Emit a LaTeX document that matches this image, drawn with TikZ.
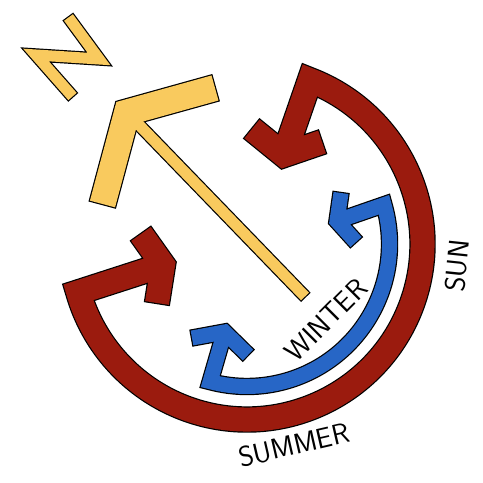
\documentclass[tikz,border=0pt]{standalone}
\usepackage{xcolor}
\usepackage{tikz}
\usetikzlibrary{calc}
\definecolor{sunred}{HTML}{9B1B0E}
\definecolor{winterblue}{HTML}{2766C6}
\definecolor{northyellow}{HTML}{F9CA5E}

\begin{document}
\begin{tikzpicture}[
    x=1pt,y=1pt,
    font=\sffamily\fontsize{28.5}{28.5}\selectfont,
    band/.style={draw=black,line width=1.2pt,double=#1,line cap=rect,
      line join=miter},
    sunband/.style={band=sunred,double distance=24pt},
    winterband/.style={band=winterblue,double distance=15pt},
    letterband/.style={band=northyellow,double distance=11pt},
    rim/.style={draw=black,line cap=rect,line join=miter},
    core/.style={draw=northyellow,line cap=rect,line join=miter},
    season/.style={inner sep=0pt}
  ]
    \useasboundingbox (0,0) rectangle (483,483);
    \coordinate (centre) at (247,239);

    % north arrow
    \coordinate (shaftfoot) at (305,186.5);
    \coordinate (northtip) at (127,370.5);
    \coordinate (northwing1) at (215,395);
    \coordinate (northwing2) at (102.5,279);
    \draw[rim,line width=13.4pt] ($(shaftfoot)!5.5pt!(northtip)$) -- (northtip);
    \draw[rim,line width=28.4pt] ($(northwing1)!13pt!(northtip)$) -- (northtip)
      -- ($(northwing2)!13pt!(northtip)$);
    \draw[core,line width=11pt] ($(shaftfoot)!5.5pt!(northtip)$) -- (northtip);
    \draw[core,line width=26pt] ($(northwing1)!13pt!(northtip)$) -- (northtip)
      -- ($(northwing2)!13pt!(northtip)$);

    \coordinate (n1) at (68.5,465.5);
    \coordinate (n2) at (99,424);
    \coordinate (n3) at (36,428);
    \coordinate (n4) at (72.5,386.5);
    \draw[letterband] ($(n1)!5.5pt!(n2)$) -- (n2) -- (n3) -- ($(n4)!5.5pt!(n3)$);

    % sun path
    \coordinate (redtop) at ($(centre)+(69:175.5)$);
    \coordinate (redleft) at ($(centre)+(-164:175.5)$);
    \coordinate (redtoptip) at (284,328);
    \coordinate (redtopwing1) at (252,354);
    \coordinate (redtopwing2) at (322,341);
    \coordinate (redlefttip) at (163,218);
    \coordinate (redleftwing1) at (141,249);
    \coordinate (redleftwing2) at (157,180);
    \draw[sunband]
      ($(redtoptip)!12pt!(redtop)$) -- (redtop)
        arc[start angle=69,end angle=-164,radius=175.5]
        -- ($(redlefttip)!12pt!(redleft)$)
      ($(redtopwing1)!12pt!(redtoptip)$) -- (redtoptip)
        -- ($(redtopwing2)!12pt!(redtoptip)$)
      ($(redleftwing1)!12pt!(redlefttip)$) -- (redlefttip)
        -- ($(redleftwing2)!12pt!(redlefttip)$);

    \coordinate (bluetop) at ($(centre)+(16:142.5)$);
    \coordinate (bluelow) at ($(centre)+(-105:142.5)$);
    \coordinate (bluetoptip) at (337,262);
    \coordinate (bluetopwing1) at (341,290);
    \coordinate (bluetopwing2) at (356,241);
    \coordinate (bluelowtip) at (224.5,151);
    \coordinate (bluelowwing1) at (192,145);
    \coordinate (bluelowwing2) at (248,128);
    \draw[winterband]
      ($(bluetoptip)!7.5pt!(bluetop)$) -- (bluetop)
        arc[start angle=16,end angle=-105,radius=142.5]
        -- ($(bluelowtip)!7.5pt!(bluelow)$)
      ($(bluetopwing1)!7.5pt!(bluetoptip)$) -- (bluetoptip)
        -- ($(bluetopwing2)!7.5pt!(bluetoptip)$)
      ($(bluelowwing1)!7.5pt!(bluelowtip)$) -- (bluelowtip)
        -- ($(bluelowwing2)!7.5pt!(bluelowtip)$);

    \node[season,rotate=13] (summer) at (294,38) {SUMMER};
    \node[season,rotate=84] (sun) at (457,217) {SUN};
    \node[season,rotate=45] (winter) at (326,163) {WINTER};
  \end{tikzpicture}
\end{document}
